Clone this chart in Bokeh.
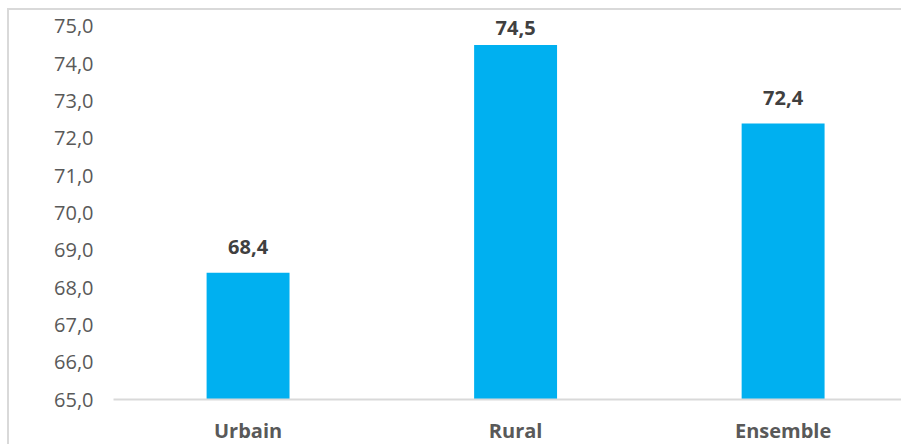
from bokeh.plotting import figure
from bokeh.models import ColumnDataSource, Range1d, FixedTicker
from bokeh.core.properties import value
from bokeh.embed import file_html
from bokeh.resources import INLINE

categories = ["Urbain", "Rural", "Ensemble"]
values = [68.4, 74.5, 72.4]
value_labels = ["68,4", "74,5", "72,4"]
y_ticks = [65, 66, 67, 68, 69, 70, 71, 72, 73, 74, 75]
y_tick_labels = ["65,0", "66,0", "67,0", "68,0", "69,0", "70,0", "71,0", "72,0", "73,0", "74,0", "75,0"]

xs = list(range(len(categories)))
# data labels sit above the bars, kept inside the plot area like Excel does
label_gap = 0.69
label_max = 74.96
label_y = [min(v + label_gap, label_max) for v in values]
src = ColumnDataSource(dict(x=xs, top=values, lab=value_labels, ly=label_y))

p = figure(width=894, height=436, output_backend="svg", toolbar_location=None,
           x_range=Range1d(-0.503, 2.45), y_range=Range1d(65, 75.4),
           min_border_left=104, min_border_right=0, min_border_top=1, min_border_bottom=47)
p.styles = {"margin-left": "7px", "margin-top": "8px",
            "border-left": "2px solid #d9d9d9", "border-top": "2px solid #d9d9d9"}
p.outline_line_color = None
p.grid.grid_line_color = None

p.vbar(x="x", top="top", bottom=65, width=0.31, source=src, color="#00B0F0", line_color=None)
p.text(x="x", y="ly", text="lab", source=src, text_align="center", text_baseline="alphabetic",
       text_font=value("Open Sans"), text_font_style="bold",
       text_font_size="20px", text_color="#404040")

p.xaxis.ticker = FixedTicker(ticks=xs)
p.xaxis.major_label_overrides = {i: c for i, c in zip(xs, categories)}
p.xaxis.axis_line_color = "#d9d9d9"
p.xaxis.axis_line_width = 2
p.xaxis.major_tick_line_color = None
p.xaxis.major_tick_out = 0
p.xaxis.major_tick_in = 0
p.xaxis.minor_tick_line_color = None
p.xaxis.major_label_text_font = "Open Sans"
p.xaxis.major_label_text_font_style = "bold"
p.xaxis.major_label_text_font_size = "20px"
p.xaxis.major_label_text_color = "#595959"
p.xaxis.major_label_standoff = 17

p.yaxis.ticker = FixedTicker(ticks=y_ticks)
p.yaxis.major_label_overrides = {t: l for t, l in zip(y_ticks, y_tick_labels)}
p.yaxis.axis_line_color = None
p.yaxis.major_tick_line_color = None
p.yaxis.major_tick_out = 0
p.yaxis.major_tick_in = 0
p.yaxis.minor_tick_line_color = None
p.yaxis.major_label_text_font = "Open Sans"
p.yaxis.major_label_text_font_size = "20px"
p.yaxis.major_label_text_color = "#595959"
p.yaxis.major_label_standoff = 20

open("out.html", "w").write(file_html(p, INLINE))
